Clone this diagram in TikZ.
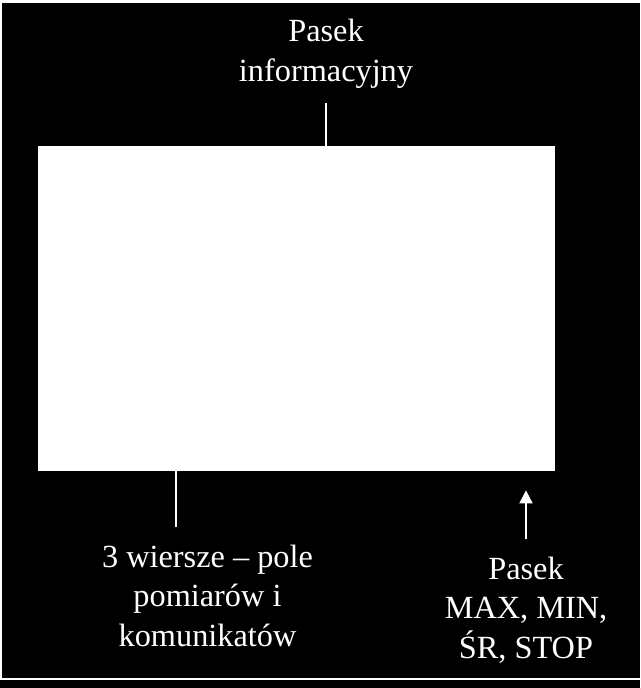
\documentclass[tikz,border=0pt]{standalone}
\usepackage{fontspec}
\setmainfont{Liberation Serif}
\usetikzlibrary{arrows.meta}
\tikzset{
  lbl/.style={text=white, align=center, inner sep=0pt, anchor=base,
    font=\fontsize{32.3}{39.5}\selectfont},
  wire/.style={draw=white, line width=2pt},
}
\begin{document}
\begin{tikzpicture}[x=1pt,y=-1pt]
\useasboundingbox (0,0) rectangle (640,688);
\fill[black] (0,0) rectangle (640,688);
\fill[white] (0,0) rectangle (640,2.7);
\fill[white] (0,0) rectangle (2,679.5);
\fill[white] (0,677.5) rectangle (640,679.5);
\node[fill=white, minimum width=517pt, minimum height=324.5pt, inner sep=0pt,
  anchor=north west] (screen) at (38,146) {};
\node[lbl] (top) at (326,81) {Pasek\\informacyjny};
\node[lbl] (left) at (207.5,646) {3 wiersze – pole\\pomiarów i\\komunikatów};
\node[lbl] (right) at (526,658) {Pasek\\MAX, MIN,\\ŚR, STOP};
\coordinate (ta) at (326,103);
\coordinate (lb) at (176.3,527);
\coordinate (rb) at (526,539);
\draw[wire] (ta) -- (ta |- screen.north);
\draw[wire] (lb) -- (lb |- screen.south);
\draw[wire, -{Triangle[width=13pt,length=13pt]}] (rb) -- ([yshift=-19.5pt]rb |- screen.south);
\end{tikzpicture}
\end{document}
